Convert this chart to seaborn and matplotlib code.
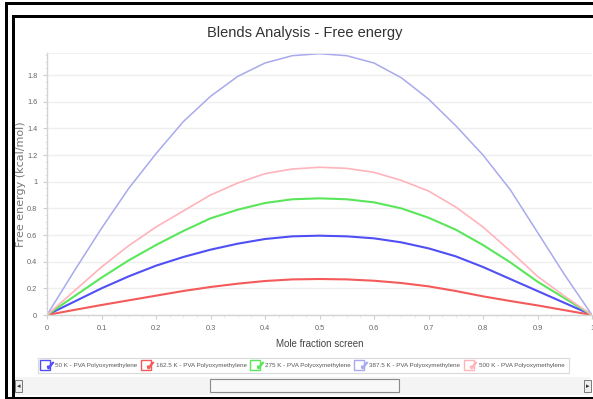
import numpy as np
import pandas as pd
import matplotlib
matplotlib.use("Agg")
import matplotlib.pyplot as plt
import seaborn as sns
from matplotlib.lines import Line2D
from matplotlib.patches import Rectangle
from matplotlib.legend_handler import HandlerTuple
from matplotlib.ticker import MultipleLocator, FixedLocator

# Mole fraction of the screen component
mole_fraction = [0.0, 0.05, 0.1, 0.15, 0.2, 0.25, 0.3, 0.35, 0.4, 0.45, 0.5,
                 0.55, 0.6, 0.65, 0.7, 0.75, 0.8, 0.85, 0.9, 0.95, 1.0]

# Free energy of mixing (kcal/mol) per temperature
g_50 = [0.0, 0.10, 0.20, 0.29, 0.37, 0.435, 0.49, 0.535, 0.57, 0.59, 0.595,
        0.59, 0.575, 0.545, 0.50, 0.44, 0.36, 0.27, 0.18, 0.09, 0.0]
g_162 = [0.0, 0.038, 0.075, 0.11, 0.145, 0.18, 0.21, 0.235, 0.255, 0.267, 0.27,
         0.267, 0.257, 0.24, 0.215, 0.18, 0.14, 0.105, 0.072, 0.036, 0.0]
g_275 = [0.0, 0.14, 0.28, 0.41, 0.525, 0.63, 0.725, 0.79, 0.84, 0.868, 0.875,
         0.868, 0.845, 0.80, 0.73, 0.64, 0.525, 0.395, 0.25, 0.125, 0.0]
g_387 = [0.0, 0.33, 0.65, 0.95, 1.21, 1.45, 1.64, 1.79, 1.89, 1.945, 1.96,
         1.945, 1.89, 1.78, 1.62, 1.42, 1.20, 0.94, 0.62, 0.30, 0.0]
g_500 = [0.0, 0.18, 0.36, 0.52, 0.66, 0.78, 0.90, 0.99, 1.06, 1.095, 1.108,
         1.10, 1.07, 1.01, 0.93, 0.81, 0.66, 0.48, 0.29, 0.14, 0.0]

series_labels = ["50 K - PVA Polyoxymethylene", "162.5 K - PVA Polyoxymethylene",
                 "275 K - PVA Polyoxymethylene", "387.5 K - PVA Polyoxymethylene",
                 "500 K - PVA Polyoxymethylene"]
series_values = [g_50, g_162, g_275, g_387, g_500]
series_colors = ["#4f4ff5", "#f55a5a", "#5ae65a", "#a9a9ee", "#ffb3bb"]
series_widths = [1.5, 1.5, 1.5, 1.1, 1.2]

x_ticks = [0, 0.1, 0.2, 0.3, 0.4, 0.5, 0.6, 0.7, 0.8, 0.9, 1.0]
x_tick_labels = ["0", "0.1", "0.2", "0.3", "0.4", "0.5", "0.6", "0.7", "0.8", "0.9", "1"]
y_ticks = [0, 0.2, 0.4, 0.6, 0.8, 1.0, 1.2, 1.4, 1.6, 1.8]
y_tick_labels = ["0", "0.2", "0.4", "0.6", "0.8", "1", "1.2", "1.4", "1.6", "1.8"]

df = pd.DataFrame({
    "x": mole_fraction * len(series_labels),
    "g": [v for vals in series_values for v in vals],
    "series": [lab for lab in series_labels for _ in mole_fraction],
})

sns.set_style("white")
plt.rcParams["font.family"] = ["Liberation Sans", "DejaVu Sans"]
W, H = 593, 399
fig = plt.figure(figsize=(W / 100, H / 100), dpi=100)
fig.patch.set_facecolor("white")

ax = fig.add_axes([47 / W, 1 - 315 / H, (592 - 47) / W, (315 - 53.3) / H])
palette = dict(zip(series_labels, series_colors))
sns.lineplot(data=df, x="x", y="g", hue="series", palette=palette,
             ax=ax, legend=False, sort=False)
for line, lw in zip(ax.get_lines(), series_widths):
    line.set_linewidth(lw)
    line.set_solid_joinstyle("round")

ax.set_xlim(0, 1.0)
ax.set_ylim(0, 1.963)
ax.xaxis.set_major_locator(FixedLocator(x_ticks))
ax.set_xticklabels(x_tick_labels)
ax.yaxis.set_major_locator(FixedLocator(y_ticks))
ax.set_yticklabels(y_tick_labels)
ax.xaxis.set_minor_locator(MultipleLocator(0.025))
ax.yaxis.set_minor_locator(MultipleLocator(0.05))
ax.tick_params(axis="both", which="major", labelsize=5.3, labelcolor="#666666",
               color="#cfcfcf", length=3, width=0.8, pad=4)
ax.tick_params(axis="both", which="minor", color="#dcdcdc", length=1.5, width=0.6)
ax.tick_params(axis="x", bottom=True, which="both")
ax.tick_params(axis="y", left=True, which="both")

ax.grid(axis="y", color="#efefef", lw=1.0)
ax.grid(axis="x", visible=False)
ax.axhline(1.963, color="#efefef", lw=1.2)
for side in ["top", "right"]:
    ax.spines[side].set_visible(False)
for side in ["left", "bottom"]:
    ax.spines[side].set_color("#d3d3d3")
    ax.spines[side].set_linewidth(1.0)

ax.set_xlabel("Mole fraction screen", fontsize=7, color="#444444", labelpad=5)
ax.set_ylabel("Free energy (kcal/mol)", fontsize=8, color="#777777",
              family=["DejaVu Sans"])
ax.yaxis.set_label_coords((26 - 47) / 545, 0.5)

fig.text(305 / W, 1 - 33 / H, "Blends Analysis - Free energy", ha="center",
         va="center", fontsize=10.5, color="#333333")

# Legend with checkbox-style markers
handles = []
for c in series_colors:
    box = Line2D([], [], marker="s", markersize=6.8, mfc="white", mec=c, mew=1.0, ls="")
    tick = Line2D([], [], marker="$\\checkmark$", markersize=4.5, color=c, mec=c, ls="")
    handles.append((box, tick))
leg = fig.legend(handles, series_labels, handler_map={tuple: HandlerTuple(ndivide=None, pad=0)},
                 loc="center", bbox_to_anchor=(303.5 / W, 1 - 365.5 / H), ncol=5,
                 fontsize=4.5, frameon=True, handlelength=1.5, handletextpad=0.45,
                 columnspacing=1.0, borderpad=0.75, borderaxespad=0, fancybox=False)
leg.get_frame().set_edgecolor("#d0d0d0")
leg.get_frame().set_linewidth(0.8)
for t in leg.get_texts():
    t.set_color("#555555")

# Window frame and scrollbar around the chart panel
def frect(x0, y0, x1, y1, **kw):
    fig.add_artist(Rectangle((x0 / W, 1 - y1 / H), (x1 - x0) / W, (y1 - y0) / H,
                             transform=fig.transFigure, **kw))

frect(5, 2, 593, 4.5, color="black", lw=0)
frect(5, 2, 7.5, 399, color="black", lw=0)
frect(12, 15, 593, 17.5, color="black", lw=0)
frect(12, 15, 14.5, 399, color="black", lw=0)
frect(5, 396.5, 593, 399, color="black", lw=0)
frect(15, 377, 590, 395, facecolor="#f4f4f4", edgecolor="none")
frect(210, 379, 399, 392, facecolor="#f8f8f8", edgecolor="#8a8a8a", lw=0.8)
frect(15, 380, 22, 392, facecolor="#eeeeee", edgecolor="#666666", lw=0.6)
frect(584, 380, 591, 392, facecolor="#eeeeee", edgecolor="#666666", lw=0.6)
fig.text(18.5 / W, 1 - 386 / H, "\u25c2", ha="center", va="center", fontsize=5,
         color="#333333", family=["DejaVu Sans"])
fig.text(587.5 / W, 1 - 386 / H, "\u25b8", ha="center", va="center", fontsize=5,
         color="#333333", family=["DejaVu Sans"])

fig.savefig("out.png", dpi=100, facecolor="white")
